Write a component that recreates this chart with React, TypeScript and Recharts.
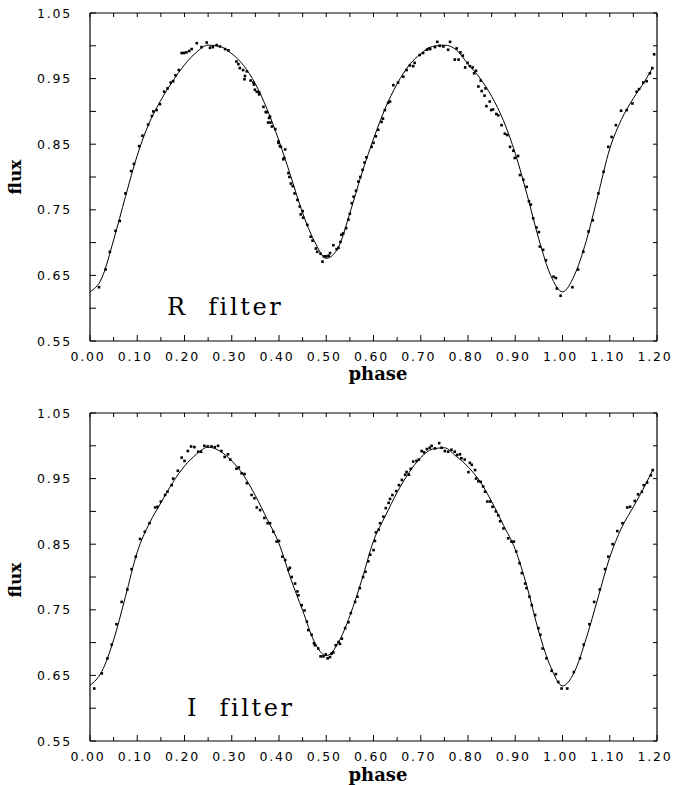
import React from 'react';
import { ComposedChart, Line, Scatter, XAxis, YAxis } from 'recharts';

const xTicks = [0, 0.05, 0.1, 0.15, 0.2, 0.25, 0.3, 0.35, 0.4, 0.45, 0.5, 0.55, 0.6, 0.65, 0.7, 0.75, 0.8, 0.85, 0.9, 0.95, 1.0, 1.05, 1.1, 1.15, 1.2];
const yTicks = [0.55, 0.6, 0.65, 0.7, 0.75, 0.8, 0.85, 0.9, 0.95, 1.0, 1.05];

const rCurve: [number, number][] = [
  [0, 0.625], [0.025, 0.646], [0.05, 0.704], [0.075, 0.77], [0.1, 0.833], [0.125, 0.882], [0.15, 0.917], [0.175, 0.946], [0.2, 0.971], [0.225, 0.99], [0.25, 1.001],
  [0.275, 0.999], [0.3, 0.988], [0.325, 0.97], [0.35, 0.942], [0.375, 0.903], [0.4, 0.855], [0.425, 0.801], [0.45, 0.745], [0.475, 0.702], [0.5, 0.676],
  [0.525, 0.692], [0.55, 0.745], [0.575, 0.805], [0.6, 0.858], [0.625, 0.905], [0.65, 0.942], [0.675, 0.97], [0.7, 0.988], [0.725, 0.999], [0.75, 1.001],
  [0.775, 0.994], [0.8, 0.972], [0.825, 0.951], [0.85, 0.923], [0.875, 0.886], [0.9, 0.836], [0.925, 0.773], [0.95, 0.705], [0.975, 0.65], [1.0, 0.625],
  [1.025, 0.65], [1.05, 0.702], [1.075, 0.772], [1.1, 0.843], [1.125, 0.888], [1.15, 0.92], [1.175, 0.947], [1.19, 0.966],
];

const rPoints: [number, number][] = [
  [0.019, 0.632], [0.033, 0.659], [0.042, 0.686], [0.054, 0.718], [0.063, 0.733], [0.075, 0.775], [0.087, 0.809], [0.093, 0.82], [0.104, 0.847], [0.111, 0.863],
  [0.123, 0.88], [0.131, 0.893], [0.134, 0.9], [0.141, 0.902], [0.148, 0.911], [0.157, 0.93], [0.164, 0.935], [0.171, 0.944], [0.176, 0.946], [0.181, 0.955],
  [0.188, 0.963], [0.194, 0.989], [0.199, 0.989], [0.204, 0.99], [0.21, 0.992], [0.215, 0.995], [0.226, 1.004], [0.236, 0.998], [0.247, 1.005], [0.254, 0.997],
  [0.26, 0.998], [0.268, 1.001], [0.275, 0.999], [0.286, 0.995], [0.293, 0.993], [0.31, 0.976], [0.314, 0.972], [0.317, 0.966], [0.324, 0.963], [0.327, 0.949],
  [0.328, 0.954], [0.332, 0.961], [0.34, 0.947], [0.346, 0.944], [0.347, 0.941], [0.349, 0.933], [0.353, 0.93], [0.358, 0.926], [0.358, 0.929], [0.367, 0.907],
  [0.372, 0.899], [0.374, 0.899], [0.377, 0.883], [0.379, 0.89], [0.381, 0.892], [0.382, 0.883], [0.385, 0.877], [0.392, 0.873], [0.399, 0.854], [0.399, 0.852],
  [0.402, 0.847], [0.404, 0.846], [0.409, 0.827], [0.411, 0.829], [0.413, 0.842], [0.42, 0.806], [0.422, 0.8], [0.425, 0.79], [0.429, 0.786], [0.433, 0.775],
  [0.439, 0.765], [0.444, 0.755], [0.446, 0.743], [0.45, 0.748], [0.451, 0.738], [0.46, 0.727], [0.467, 0.709], [0.471, 0.703], [0.478, 0.691], [0.481, 0.686],
  [0.488, 0.683], [0.492, 0.671], [0.495, 0.679], [0.5, 0.679], [0.505, 0.68], [0.508, 0.684], [0.515, 0.696], [0.522, 0.69], [0.526, 0.692], [0.53, 0.701],
  [0.532, 0.712], [0.536, 0.714], [0.542, 0.722], [0.547, 0.735], [0.55, 0.744], [0.554, 0.76], [0.558, 0.77], [0.563, 0.779], [0.568, 0.793], [0.572, 0.8],
  [0.577, 0.811], [0.581, 0.822], [0.585, 0.83], [0.596, 0.846], [0.6, 0.852], [0.605, 0.862], [0.61, 0.872], [0.617, 0.884], [0.62, 0.889], [0.624, 0.902],
  [0.631, 0.913], [0.635, 0.915], [0.642, 0.94], [0.652, 0.944], [0.663, 0.953], [0.67, 0.963], [0.677, 0.97], [0.684, 0.969], [0.687, 0.974], [0.698, 0.986],
  [0.705, 0.989], [0.713, 0.994], [0.718, 0.996], [0.72, 0.995], [0.73, 0.998], [0.735, 1.006], [0.74, 1.0], [0.748, 0.999], [0.758, 0.994], [0.762, 1.006],
  [0.772, 0.979], [0.776, 0.996], [0.78, 0.979], [0.784, 0.99], [0.789, 0.985], [0.794, 0.967], [0.799, 0.974], [0.804, 0.969], [0.81, 0.967], [0.813, 0.958],
  [0.817, 0.962], [0.822, 0.938], [0.827, 0.947], [0.829, 0.931], [0.835, 0.924], [0.837, 0.935], [0.839, 0.908], [0.846, 0.915], [0.849, 0.902], [0.853, 0.903],
  [0.86, 0.896], [0.864, 0.894], [0.871, 0.879], [0.878, 0.866], [0.883, 0.864], [0.889, 0.846], [0.896, 0.84], [0.899, 0.829], [0.906, 0.832], [0.91, 0.803],
  [0.917, 0.796], [0.924, 0.785], [0.929, 0.763], [0.933, 0.758], [0.938, 0.737], [0.945, 0.723], [0.95, 0.716], [0.952, 0.694], [0.959, 0.689], [0.965, 0.673],
  [0.981, 0.648], [0.986, 0.646], [0.988, 0.63], [0.996, 0.619], [1.021, 0.632], [1.033, 0.659], [1.044, 0.686], [1.055, 0.717], [1.064, 0.734], [1.076, 0.775],
  [1.087, 0.808], [1.097, 0.846], [1.104, 0.861], [1.113, 0.879], [1.124, 0.901], [1.136, 0.902], [1.148, 0.912], [1.157, 0.93], [1.162, 0.934], [1.171, 0.944],
  [1.178, 0.946], [1.185, 0.958], [1.19, 0.966], [1.194, 0.987],
];

const iCurve: [number, number][] = [
  [0, 0.635], [0.025, 0.656], [0.05, 0.704], [0.075, 0.77], [0.1, 0.838], [0.125, 0.881], [0.15, 0.913], [0.175, 0.944], [0.2, 0.969], [0.225, 0.987], [0.25, 0.998],
  [0.275, 0.992], [0.3, 0.977], [0.325, 0.955], [0.35, 0.924], [0.375, 0.888], [0.4, 0.851], [0.425, 0.797], [0.45, 0.749], [0.475, 0.701], [0.5, 0.68],
  [0.525, 0.699], [0.55, 0.741], [0.575, 0.795], [0.6, 0.855], [0.625, 0.893], [0.65, 0.929], [0.675, 0.959], [0.7, 0.982], [0.725, 0.995], [0.75, 0.997],
  [0.775, 0.984], [0.8, 0.968], [0.825, 0.946], [0.85, 0.915], [0.875, 0.879], [0.9, 0.842], [0.925, 0.785], [0.95, 0.716], [0.975, 0.663], [1.0, 0.634],
  [1.025, 0.655], [1.05, 0.706], [1.075, 0.768], [1.1, 0.83], [1.125, 0.875], [1.15, 0.907], [1.175, 0.94], [1.19, 0.962],
];

const iPoints: [number, number][] = [
  [0.009, 0.63], [0.025, 0.653], [0.037, 0.676], [0.046, 0.697], [0.056, 0.728], [0.067, 0.762], [0.079, 0.781], [0.088, 0.812], [0.097, 0.831], [0.106, 0.858],
  [0.116, 0.869], [0.126, 0.882], [0.138, 0.906], [0.143, 0.907], [0.15, 0.915], [0.159, 0.925], [0.164, 0.93], [0.173, 0.94], [0.176, 0.95], [0.186, 0.962],
  [0.194, 0.982], [0.2, 0.977], [0.207, 0.992], [0.214, 0.999], [0.221, 0.998], [0.229, 0.991], [0.235, 0.991], [0.242, 1.0], [0.249, 0.999], [0.257, 0.999],
  [0.264, 0.998], [0.271, 1.0], [0.278, 0.992], [0.285, 0.983], [0.292, 0.987], [0.297, 0.979], [0.31, 0.965], [0.315, 0.967], [0.321, 0.958], [0.327, 0.957],
  [0.332, 0.943], [0.342, 0.925], [0.348, 0.92], [0.353, 0.906], [0.36, 0.902], [0.369, 0.89], [0.376, 0.882], [0.381, 0.882], [0.388, 0.869], [0.395, 0.854],
  [0.4, 0.855], [0.407, 0.831], [0.413, 0.826], [0.42, 0.811], [0.423, 0.814], [0.427, 0.8], [0.434, 0.79], [0.439, 0.778], [0.441, 0.772], [0.448, 0.757],
  [0.454, 0.749], [0.459, 0.732], [0.462, 0.719], [0.469, 0.712], [0.474, 0.699], [0.476, 0.696], [0.483, 0.691], [0.488, 0.679], [0.494, 0.679], [0.499, 0.682],
  [0.503, 0.676], [0.508, 0.678], [0.511, 0.683], [0.515, 0.685], [0.52, 0.696], [0.526, 0.701], [0.529, 0.698], [0.533, 0.706], [0.54, 0.722], [0.547, 0.731],
  [0.552, 0.745], [0.561, 0.762], [0.566, 0.77], [0.571, 0.783], [0.578, 0.8], [0.583, 0.808], [0.589, 0.824], [0.593, 0.834], [0.6, 0.841], [0.603, 0.855],
  [0.605, 0.868], [0.611, 0.872], [0.614, 0.882], [0.621, 0.892], [0.626, 0.905], [0.632, 0.913], [0.635, 0.919], [0.64, 0.925], [0.648, 0.931], [0.654, 0.94],
  [0.66, 0.948], [0.667, 0.956], [0.67, 0.96], [0.675, 0.956], [0.679, 0.965], [0.684, 0.976], [0.691, 0.977], [0.696, 0.979], [0.702, 0.992], [0.707, 0.99],
  [0.713, 0.995], [0.719, 0.997], [0.723, 1.0], [0.73, 0.996], [0.739, 1.004], [0.744, 0.997], [0.751, 0.992], [0.758, 0.991], [0.765, 0.994], [0.772, 0.991],
  [0.777, 0.986], [0.783, 0.987], [0.786, 0.981], [0.793, 0.979], [0.801, 0.96], [0.804, 0.974], [0.808, 0.971], [0.815, 0.963], [0.817, 0.95], [0.822, 0.946],
  [0.827, 0.945], [0.832, 0.938], [0.836, 0.93], [0.841, 0.915], [0.847, 0.915], [0.852, 0.907], [0.859, 0.9], [0.864, 0.894], [0.868, 0.885], [0.875, 0.874],
  [0.885, 0.859], [0.892, 0.854], [0.897, 0.854], [0.902, 0.839], [0.909, 0.821], [0.914, 0.806], [0.921, 0.79], [0.924, 0.783], [0.93, 0.77], [0.935, 0.757],
  [0.942, 0.742], [0.949, 0.722], [0.953, 0.712], [0.958, 0.691], [0.966, 0.676], [0.977, 0.657], [0.986, 0.652], [0.991, 0.64], [0.998, 0.63], [1.01, 0.63],
  [1.024, 0.655], [1.037, 0.676], [1.045, 0.697], [1.057, 0.728], [1.067, 0.762], [1.079, 0.781], [1.09, 0.812], [1.097, 0.831], [1.106, 0.85], [1.116, 0.87],
  [1.127, 0.882], [1.137, 0.906], [1.143, 0.907], [1.153, 0.916], [1.16, 0.926], [1.168, 0.93], [1.172, 0.94], [1.179, 0.944], [1.187, 0.955], [1.191, 0.963],
];

const TICK_FONT = '"DejaVu Sans", sans-serif';
const AXIS = { stroke: '#000', strokeWidth: 1.2 };

const isMajorX = (v: number) => Math.round(v * 100) % 10 === 0;
const isLabelY = (v: number) => Math.round(v * 100) % 10 === 5;

const BottomTick = (props: any) => {
  const { x, y, payload } = props;
  const v = payload.value as number;
  const major = isMajorX(v);
  return (
    <g>
      <line x1={x} x2={x} y1={y} y2={y - (major ? 6 : 4)} stroke="#000" strokeWidth={1} />
      {major && (
        <text x={x - 2} y={y + 20} textAnchor="middle" fontFamily={TICK_FONT} fontSize={12.5} letterSpacing={1.8} fill="#000">
          {v.toFixed(2)}
        </text>
      )}
    </g>
  );
};

const TopTick = (props: any) => {
  const { x, y } = props;
  return <line x1={x} x2={x} y1={y} y2={y + 4} stroke="#000" strokeWidth={1} />;
};

const LeftTick = (props: any) => {
  const { x, y, payload } = props;
  const v = payload.value as number;
  return (
    <g>
      <line x1={x} x2={x + 6} y1={y} y2={y} stroke="#000" strokeWidth={1} />
      {isLabelY(v) && (
        <text x={x - 18} y={y + 4.5} textAnchor="end" fontFamily={TICK_FONT} fontSize={12.5} letterSpacing={1.8} fill="#000">
          {v.toFixed(2)}
        </text>
      )}
    </g>
  );
};

const RightTick = (props: any) => {
  const { x, y } = props;
  return <line x1={x} x2={x - 4} y1={y} y2={y} stroke="#000" strokeWidth={1} />;
};

const Dot = (p: any) => <rect x={p.cx - 1.3} y={p.cy - 1.3} width={2.6} height={2.6} fill="#000" />;

type PanelProps = {
  curve: [number, number][];
  points: [number, number][];
  height: number;
  topH: number;
  bottomH: number;
};

const Panel = ({ curve, points, height, topH, bottomH }: PanelProps) => {
  const curveData = curve.map(([x, y]) => ({ x, y }));
  const pointData = points.map(([x, y]) => ({ x, y }));
  return (
    <ComposedChart width={674} height={height} margin={{ top: 0, right: 0, bottom: 0, left: 0 }}>
      <XAxis
        xAxisId="b"
        dataKey="x"
        type="number"
        domain={[0, 1.2]}
        ticks={xTicks}
        interval={0}
        orientation="bottom"
        height={bottomH}
        tickSize={0}
        tickMargin={0}
        tickLine={false}
        axisLine={AXIS}
        tick={BottomTick}
        allowDataOverflow
      />
      <XAxis
        xAxisId="t"
        dataKey="x"
        type="number"
        domain={[0, 1.2]}
        ticks={xTicks}
        interval={0}
        orientation="top"
        height={topH}
        tickSize={0}
        tickMargin={0}
        tickLine={false}
        axisLine={AXIS}
        tick={TopTick}
        allowDataOverflow
      />
      <YAxis
        yAxisId="l"
        type="number"
        domain={[0.55, 1.05]}
        ticks={yTicks}
        interval={0}
        orientation="left"
        width={90}
        tickSize={0}
        tickMargin={0}
        tickLine={false}
        axisLine={AXIS}
        tick={LeftTick}
        allowDataOverflow
      />
      <YAxis
        yAxisId="r"
        type="number"
        domain={[0.55, 1.05]}
        ticks={yTicks}
        interval={0}
        orientation="right"
        width={17}
        tickSize={0}
        tickMargin={0}
        tickLine={false}
        axisLine={AXIS}
        tick={RightTick}
        allowDataOverflow
      />
      <Line
        xAxisId="b"
        yAxisId="l"
        data={curveData}
        dataKey="y"
        type="monotone"
        stroke="#000"
        strokeWidth={1}
        dot={false}
        activeDot={false}
        isAnimationActive={false}
      />
      <Scatter xAxisId="b" yAxisId="l" data={pointData} dataKey="y" shape={Dot} isAnimationActive={false} />
    </ComposedChart>
  );
};

const LABEL_FONT = '"DejaVu Serif", serif';

export default function App() {
  return (
    <div style={{ position: 'absolute', left: 0, top: 0, width: 674, height: 785, background: '#fff' }}>
      <div style={{ position: 'absolute', left: 0, top: 0 }}>
        <Panel curve={rCurve} points={rPoints} height={392} topH={13} bottomH={51} />
      </div>
      <div style={{ position: 'absolute', left: 0, top: 392 }}>
        <Panel curve={iCurve} points={iPoints} height={393} topH={21} bottomH={44} />
      </div>
      <svg width={674} height={785} style={{ position: 'absolute', left: 0, top: 0, pointerEvents: 'none' }}>
        <text x={21} y={177} transform="rotate(-90 21 177)" textAnchor="middle" fontFamily={LABEL_FONT} fontWeight="bold" fontSize={17}>flux</text>
        <text x={21} y={580} transform="rotate(-90 21 580)" textAnchor="middle" fontFamily={LABEL_FONT} fontWeight="bold" fontSize={17}>flux</text>
        <text x={378} y={380} textAnchor="middle" fontFamily={LABEL_FONT} fontWeight="bold" fontSize={18}>phase</text>
        <text x={378} y={781} textAnchor="middle" fontFamily={LABEL_FONT} fontSize={18} fontWeight="bold">phase</text>
        <text x={167} y={315} fontFamily={LABEL_FONT} fontSize={24} letterSpacing={2.6} style={{ whiteSpace: 'pre' }}>{'R  filter'}</text>
        <text x={187} y={716} fontFamily={LABEL_FONT} fontSize={24} letterSpacing={2.6} style={{ whiteSpace: 'pre' }}>{'I  filter'}</text>
      </svg>
    </div>
  );
}
